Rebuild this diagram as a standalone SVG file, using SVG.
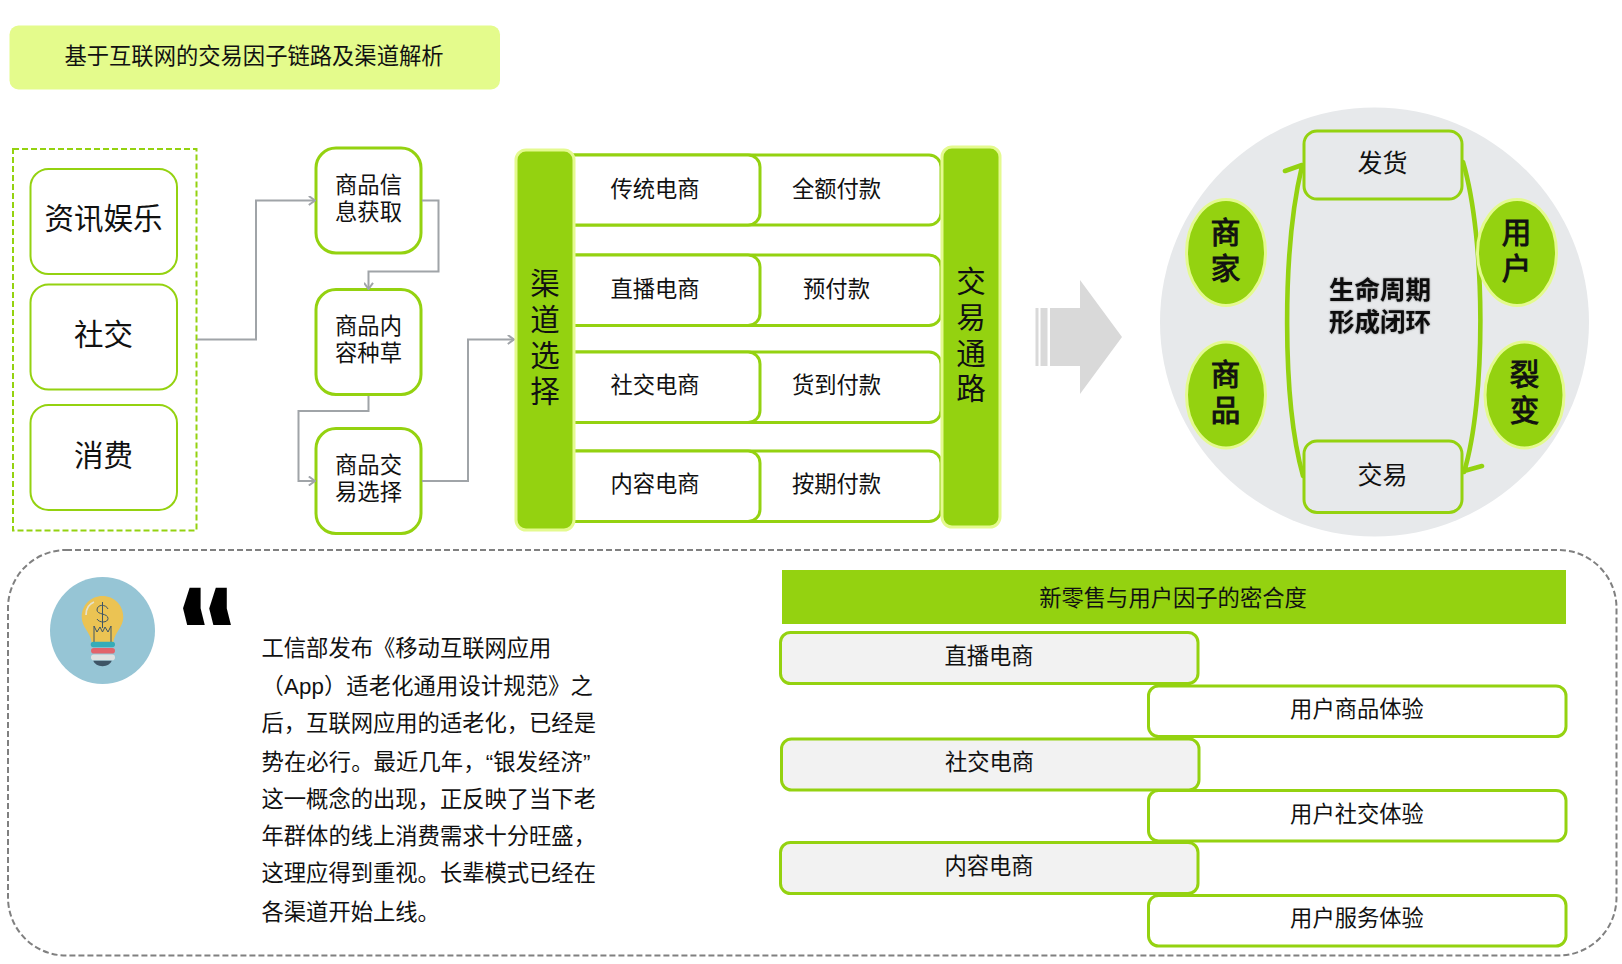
<svg xmlns="http://www.w3.org/2000/svg" width="1622" height="964" viewBox="0 0 1622 964">
<style>
text{font-family:"Liberation Sans","Noto Sans CJK SC",sans-serif;fill:#111;text-anchor:middle;dominant-baseline:central}
.g{fill:#94d210;stroke:#e4fa8f;stroke-width:3}
.b{fill:#fff;stroke:#94d210}
.t22{font-size:22.3px}
.t30{font-size:29.5px}
.big{font-size:29.5px}
.bold{font-weight:bold}
.semi{stroke:#111;stroke-width:1}
.conn{fill:none;stroke:#a0a4a8;stroke-width:2}
.curve{fill:none;stroke:#94d210;stroke-width:4.6;stroke-linecap:round;stroke-linejoin:round}
.para{font-size:22.3px;text-anchor:start}
</style>
<defs>
<marker id="arr" viewBox="0 0 10 10" refX="9.2" refY="5" markerWidth="10" markerHeight="10" markerUnits="userSpaceOnUse" orient="auto"><path d="M3 0.5L9.2 5L3 9.5" fill="none" stroke="#a0a4a8" stroke-width="2"/></marker>
<filter id="soft" x="-10%" y="-10%" width="120%" height="120%"><feGaussianBlur in="SourceAlpha" stdDeviation="1.2"/><feComponentTransfer><feFuncA type="linear" slope="0.45"/></feComponentTransfer><feMerge><feMergeNode/><feMergeNode in="SourceGraphic"/></feMerge></filter>
</defs>

<g id="title"><rect x="9.5" y="25.5" width="490.5" height="64" rx="9" fill="#e4fb8c"/><text class="t22" x="254" y="56">基于互联网的交易因子链路及渠道解析</text></g>

<g id="source-group"><rect x="13" y="149" width="183.5" height="381.5" fill="none" stroke="#94d210" stroke-width="2" stroke-dasharray="6 3"/></g>
<g id="n-zixun"><rect class="b" stroke-width="2" x="30.500" y="169" width="146.500" height="105" rx="18"/><text class="t30" x="103.500" y="218">资讯娱乐</text></g>
<g id="n-shejiao"><rect class="b" stroke-width="2" x="30.500" y="284.500" width="146.500" height="105" rx="18"/><text class="t30" x="103.500" y="334.500">社交</text></g>
<g id="n-xiaofei"><rect class="b" stroke-width="2" x="30.500" y="405" width="146.500" height="105" rx="18"/><text class="t30" x="103.500" y="455">消费</text></g>

<g id="n-info"><rect class="b" stroke-width="3" x="316" y="148" width="105" height="105" rx="20"/><text class="t22" x="368.500" y="185">商品信</text><text class="t22" x="368.500" y="212.500">息获取</text></g>
<g id="n-content"><rect class="b" stroke-width="3" x="316" y="289.500" width="105" height="105" rx="20"/><text class="t22" x="368.500" y="326">商品内</text><text class="t22" x="368.500" y="353.500">容种草</text></g>
<g id="n-trade"><rect class="b" stroke-width="3" x="316" y="428.500" width="105" height="105" rx="20"/><text class="t22" x="368.500" y="465">商品交</text><text class="t22" x="368.500" y="492.500">易选择</text></g>

<g id="connectors">
<path class="conn" marker-end="url(#arr)" d="M197 339.500H256V200.500H315"/>
<path class="conn" marker-end="url(#arr)" d="M422 200.500H438.500V271.500H368.500V289"/>
<path class="conn" marker-end="url(#arr)" d="M368.500 396V411H298.500V481H315"/>
<path class="conn" marker-end="url(#arr)" d="M422 481H468V339.500H514"/>
</g>

<g id="rows">
<g id="row1"><rect class="b" stroke-width="3" x="540" y="155" width="401" height="70" rx="12"/><rect class="b" stroke-width="3" x="540" y="155" width="220" height="70" rx="12"/><text class="t22" x="655" y="189">传统电商</text><text class="t22" x="836.500" y="189">全额付款</text></g>
<g id="row2"><rect class="b" stroke-width="3" x="540" y="255" width="401" height="70.500" rx="12"/><rect class="b" stroke-width="3" x="540" y="255" width="220" height="70.500" rx="12"/><text class="t22" x="655" y="289.500">直播电商</text><text class="t22" x="836.500" y="289.500">预付款</text></g>
<g id="row3"><rect class="b" stroke-width="3" x="540" y="352" width="401" height="70.500" rx="12"/><rect class="b" stroke-width="3" x="540" y="352" width="220" height="70.500" rx="12"/><text class="t22" x="655" y="385.500">社交电商</text><text class="t22" x="836.500" y="385.500">货到付款</text></g>
<g id="row4"><rect class="b" stroke-width="3" x="540" y="451" width="401" height="70.500" rx="12"/><rect class="b" stroke-width="3" x="540" y="451" width="220" height="70.500" rx="12"/><text class="t22" x="655" y="484">内容电商</text><text class="t22" x="836.500" y="484">按期付款</text></g>
</g>
<g id="bar-channel"><rect class="g" x="516" y="150" width="58" height="380" rx="10"/><text class="big" x="545" y="283.500">渠</text><text class="big" x="545" y="319.500">道</text><text class="big" x="545" y="355">选</text><text class="big" x="545" y="391">择</text></g>
<g id="bar-path"><rect class="g" x="942" y="147" width="58" height="380" rx="10"/><text class="big" x="971" y="281">交</text><text class="big" x="971" y="317">易</text><text class="big" x="971" y="353">通</text><text class="big" x="971" y="388">路</text></g>

<g id="big-arrow" fill="#d9d9d9"><rect x="1035.500" y="308" width="3" height="58"/><rect x="1040.500" y="308" width="7" height="58"/><path d="M1050 308H1080V280L1122 337L1080 394V366H1050Z"/></g>

<g id="lifecycle">
<ellipse cx="1374.500" cy="322" rx="214.500" ry="214.500" fill="#e7e9eb"/>
<g id="curves">
<path class="curve" d="M1303 476C1282 400 1282 250 1302 166M1285 171L1302 165"/>
<path class="curve" d="M1463 162C1486 240 1486 400 1464 472M1482 466L1464 471"/>
</g>
<g id="n-fahuo"><rect x="1304" y="131" width="158" height="68" rx="13" fill="#e7e9eb" stroke="#94d210" stroke-width="3"/><text class="t22" x="1382.500" y="163" style="font-size:25px">发货</text></g>
<g id="n-jiaoyi"><rect x="1304" y="441" width="158" height="71.500" rx="13" fill="#e7e9eb" stroke="#94d210" stroke-width="3"/><text class="t22" x="1382.500" y="474.500" style="font-size:25px">交易</text></g>
<g id="n-center"><g filter="url(#soft)"><text class="bold" style="font-size:25.500px" x="1380" y="290">生命周期</text><text class="bold" style="font-size:25.500px" x="1380" y="321.500">形成闭环</text></g></g>
<g id="n-shangjia"><ellipse class="g" stroke-width="2" cx="1226" cy="252.500" rx="39.500" ry="53"/><text class="t30 semi" x="1225.500" y="232.500" style="font-size:30px">商</text><text class="t30 semi" x="1225.500" y="268">家</text></g>
<g id="n-shangpin"><ellipse class="g" stroke-width="2" cx="1226" cy="395" rx="39.500" ry="53"/><text class="t30 semi" x="1225.500" y="374.500">商</text><text class="t30 semi" x="1225.500" y="410.500">品</text></g>
<g id="n-yonghu"><ellipse class="g" stroke-width="2" cx="1517" cy="252.500" rx="39.500" ry="53"/><text class="t30 semi" x="1516.500" y="232.500">用</text><text class="t30 semi" x="1516.500" y="268">户</text></g>
<g id="n-liebian"><ellipse class="g" stroke-width="2" cx="1524.500" cy="395" rx="39.500" ry="53"/><text class="t30 semi" x="1524.500" y="374.500">裂</text><text class="t30 semi" x="1524.500" y="410.500">变</text></g>
</g>

<g id="panel"><rect x="8" y="550" width="1608.500" height="405.500" rx="58" fill="none" stroke="#808080" stroke-width="2" stroke-dasharray="6 3"/></g>

<g id="bulb-icon">
<ellipse cx="102.500" cy="630.500" rx="52.500" ry="53.500" fill="#96c5d5"/>
<path d="M102.500 596C91 596 81.700 605 81.700 617C81.700 627 90 632 91.700 642H113.300C115 632 123.300 627 123.300 617C123.300 605 114 596 102.500 596Z" fill="#ebc353"/>
<path d="M86 615C86 609 89 604 94 602" fill="none" stroke="#e4e2cf" stroke-width="1.800"/>
<path d="M102.500 602V623M108 609C106 604 97 604 97 610C97 615 108 613 108 618.500C108 623 99 623 97 619M102.500 623V628M94 642V626L97 632L100 627L102.500 632L105 627L108 632L111 626V642" fill="none" stroke="#3e5566" stroke-width="1"/>
<rect x="90.700" y="641.700" width="24.300" height="5.600" rx="2.800" fill="#35acb8"/>
<rect x="91" y="648" width="24" height="5.600" rx="2.800" fill="#e2636b"/>
<rect x="91" y="654.500" width="24" height="5.700" rx="2.800" fill="#dfe1e1"/>
<path d="M93.300 660.800H111.700C110.500 664 107 666.200 102.500 666.200C98 666.200 94.500 664 93.300 660.800Z" fill="#3e5566"/>
</g>
<text id="quote-mark" x="206" y="630" transform="translate(206 604) skewX(14) scale(1 1.13) translate(-206 -604)" style="font-family:'DejaVu Sans',sans-serif;font-weight:bold;font-size:106px;fill:#000">“</text>

<g id="paragraph">
<text class="para" x="261.500" y="648">工信部发布《移动互联网应用</text>
<text class="para" x="261.500" y="686" letter-spacing=".12">（App）适老化通用设计规范》之</text>
<text class="para" x="261.500" y="723.500">后，互联网应用的适老化，已经是</text>
<text class="para" x="261.500" y="762" letter-spacing=".12">势在必行。最近几年，“银发经济”</text>
<text class="para" x="261.500" y="799.500">这一概念的出现，正反映了当下老</text>
<text class="para" x="261.500" y="836.500">年群体的线上消费需求十分旺盛，</text>
<text class="para" x="261.500" y="873.500">这理应得到重视。长辈模式已经在</text>
<text class="para" x="261.500" y="912">各渠道开始上线。</text>
</g>

<g id="table-head"><rect x="782" y="570" width="784" height="54" fill="#94d210"/><text class="t22" x="1173" y="598.500">新零售与用户因子的密合度</text></g>
<g id="t1"><rect x="780.500" y="632.500" width="417.500" height="51" rx="10" fill="#f2f2f2" stroke="#94d210" stroke-width="3"/><text class="t22" x="989" y="656.500">直播电商</text></g>
<g id="t2"><rect class="b" stroke-width="3" x="1148.500" y="686" width="417.500" height="50.500" rx="10"/><text class="t22" x="1357" y="709">用户商品体验</text></g>
<g id="t3"><rect x="781.500" y="739" width="417.500" height="51" rx="10" fill="#f2f2f2" stroke="#94d210" stroke-width="3"/><text class="t22" x="989.500" y="762.500">社交电商</text></g>
<g id="t4"><rect class="b" stroke-width="3" x="1148.500" y="790.500" width="417.500" height="50.500" rx="10"/><text class="t22" x="1357" y="814">用户社交体验</text></g>
<g id="t5"><rect x="780.500" y="842.500" width="417.500" height="51" rx="10" fill="#f2f2f2" stroke="#94d210" stroke-width="3"/><text class="t22" x="989" y="866.500">内容电商</text></g>
<g id="t6"><rect class="b" stroke-width="3" x="1148.500" y="895.500" width="417.500" height="50.500" rx="10"/><text class="t22" x="1357" y="918">用户服务体验</text></g>
</svg>
